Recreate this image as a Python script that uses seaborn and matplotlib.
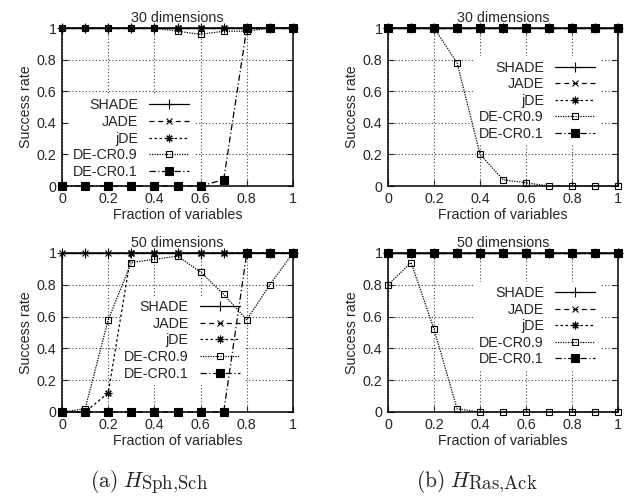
import matplotlib

matplotlib.use("Agg")
import matplotlib.pyplot as plt
import seaborn as sns

# fraction of variables on the x axis (shared by every panel)
FRACTIONS = [0.0, 0.1, 0.2, 0.3, 0.4, 0.5, 0.6, 0.7, 0.8, 0.9, 1.0]
ALGORITHMS = ["SHADE", "JADE", "jDE", "DE-CR0.9", "DE-CR0.1"]
TICKS = [0, 0.2, 0.4, 0.6, 0.8, 1]
TICK_LABELS = ["0", "0.2", "0.4", "0.6", "0.8", "1"]

# (a) H_Sph,Sch
SPH_30_SHADE = [1, 1, 1, 1, 1, 1, 1, 1, 1, 1, 1]
SPH_30_JADE = [1, 1, 1, 1, 1, 1, 1, 1, 1, 1, 1]
SPH_30_JDE = [1, 1, 1, 1, 1, 1, 1, 1, 1, 1, 1]
SPH_30_CR09 = [1, 1, 1, 1, 1, 0.98, 0.96, 0.98, 0.98, 1, 1]
SPH_30_CR01 = [0, 0, 0, 0, 0, 0, 0, 0.04, 1, 1, 1]

SPH_50_SHADE = [1, 1, 1, 1, 1, 1, 1, 1, 1, 1, 1]
SPH_50_JADE = [1, 1, 1, 1, 1, 1, 1, 1, 1, 1, 1]
SPH_50_JDE = [0, 0, 0.12, 1, 1, 1, 1, 1, 1, 1, 1]
SPH_50_CR09 = [0, 0.02, 0.58, 0.94, 0.96, 0.98, 0.88, 0.74, 0.58, 0.8, 1]
SPH_50_CR01 = [0, 0, 0, 0, 0, 0, 0, 0, 1, 1, 1]

# (b) H_Ras,Ack
RAS_30_SHADE = [1, 1, 1, 1, 1, 1, 1, 1, 1, 1, 1]
RAS_30_JADE = [1, 1, 1, 1, 1, 1, 1, 1, 1, 1, 1]
RAS_30_JDE = [1, 1, 1, 1, 1, 1, 1, 1, 1, 1, 1]
RAS_30_CR09 = [1, 1, 1, 0.78, 0.2, 0.04, 0.02, 0, 0, 0, 0]
RAS_30_CR01 = [1, 1, 1, 1, 1, 1, 1, 1, 1, 1, 1]

RAS_50_SHADE = [1, 1, 1, 1, 1, 1, 1, 1, 1, 1, 1]
RAS_50_JADE = [1, 1, 1, 1, 1, 1, 1, 1, 1, 1, 1]
RAS_50_JDE = [1, 1, 1, 1, 1, 1, 1, 1, 1, 1, 1]
RAS_50_CR09 = [0.8, 0.94, 0.52, 0.02, 0, 0, 0, 0, 0, 0, 0]
RAS_50_CR01 = [1, 1, 1, 1, 1, 1, 1, 1, 1, 1, 1]

STYLES = {
    "SHADE": dict(linestyle="-", marker="+", markersize=7, markerfacecolor="black"),
    "JADE": dict(linestyle=(0, (4, 3)), marker="x", markersize=5, markerfacecolor="black"),
    "jDE": dict(linestyle=(0, (2, 2)), marker=(8, 2, 0), markersize=5.5, markerfacecolor="black"),
    "DE-CR0.9": dict(linestyle=(0, (1, 1)), marker="s", markersize=5, markerfacecolor="none"),
    "DE-CR0.1": dict(linestyle=(0, (5, 2, 1, 2)), marker="s", markersize=5.5, markerfacecolor="black"),
}

sns.set_style("ticks")
plt.rcParams["font.family"] = ["Liberation Sans", "DejaVu Sans"]
plt.rcParams["mathtext.fontset"] = "cm"
FONT_SIZE = 10.3


def draw_panel(ax, series, title, legend_anchor):
    for name, values in zip(ALGORITHMS, series):
        sns.lineplot(
            x=FRACTIONS,
            y=values,
            ax=ax,
            color="black",
            linewidth=0.9,
            markeredgecolor="black",
            markeredgewidth=0.8,
            errorbar=None,
            clip_on=False,
            label=name,
            **STYLES[name],
        )
    ax.set_xlim(0, 1)
    ax.set_ylim(0, 1)
    ax.set_xticks(TICKS)
    ax.set_xticklabels(TICK_LABELS)
    ax.set_yticks(TICKS)
    ax.set_yticklabels(TICK_LABELS)
    ax.tick_params(direction="in", length=4, top=True, right=True, labelsize=FONT_SIZE, pad=4, width=0.8)
    ax.set_axisbelow(True)
    ax.grid(True, linestyle=(0, (1, 2)), color="0.25", linewidth=0.8)
    for spine in ax.spines.values():
        spine.set_visible(True)
        spine.set_linewidth(1.1)
        spine.set_color("black")
    ax.set_title(title, fontsize=FONT_SIZE, pad=4)
    ax.set_xlabel("Fraction of variables", fontsize=FONT_SIZE, labelpad=2)
    ax.set_ylabel("Success rate", fontsize=FONT_SIZE, labelpad=3)
    legend = ax.legend(
        loc="center right",
        bbox_to_anchor=legend_anchor,
        markerfirst=False,
        fontsize=FONT_SIZE,
        frameon=True,
        framealpha=1,
        facecolor="white",
        edgecolor="none",
        fancybox=False,
        handlelength=2.8,
        handletextpad=0.8,
        labelspacing=0.18,
        borderpad=0.3,
        borderaxespad=0,
    )
    legend.set_zorder(1.5)


def caption(fig, x_px, label, subscript):
    # base "(x) H" then the roman subscript a little lower, like the LaTeX caption
    fig.text(x_px / 631, 1 - 487 / 496, r"$\mathrm{" + label + r"}\ H$",
             ha="right", va="baseline", fontsize=15.5)
    fig.text((x_px - 4) / 631, 1 - 489 / 496, r"$\mathrm{" + subscript + r"}$",
             ha="left", va="baseline", fontsize=13.5)


fig = plt.figure(figsize=(6.31, 4.96), dpi=100)
ax_a30 = fig.add_axes([0.0983, 0.625, 0.366, 0.3185])
ax_b30 = fig.add_axes([0.615, 0.625, 0.3645, 0.3185])
ax_a50 = fig.add_axes([0.0983, 0.1694, 0.366, 0.3206])
ax_b50 = fig.add_axes([0.615, 0.1694, 0.3645, 0.3206])

draw_panel(ax_a30, [SPH_30_SHADE, SPH_30_JADE, SPH_30_JDE, SPH_30_CR09, SPH_30_CR01],
           "30 dimensions", (0.57, 0.30))
draw_panel(ax_b30, [RAS_30_SHADE, RAS_30_JADE, RAS_30_JDE, RAS_30_CR09, RAS_30_CR01],
           "30 dimensions", (0.92, 0.54))
draw_panel(ax_a50, [SPH_50_SHADE, SPH_50_JADE, SPH_50_JDE, SPH_50_CR09, SPH_50_CR01],
           "50 dimensions", (0.79, 0.45))
draw_panel(ax_b50, [RAS_50_SHADE, RAS_50_JADE, RAS_50_JDE, RAS_50_CR09, RAS_50_CR01],
           "50 dimensions", (0.92, 0.54))

caption(fig, 145, "(a)", "Sph{,}Sch")
caption(fig, 472, "(b)", "Ras{,}Ack")

fig.savefig("out.png", dpi=100)
plt.close(fig)
